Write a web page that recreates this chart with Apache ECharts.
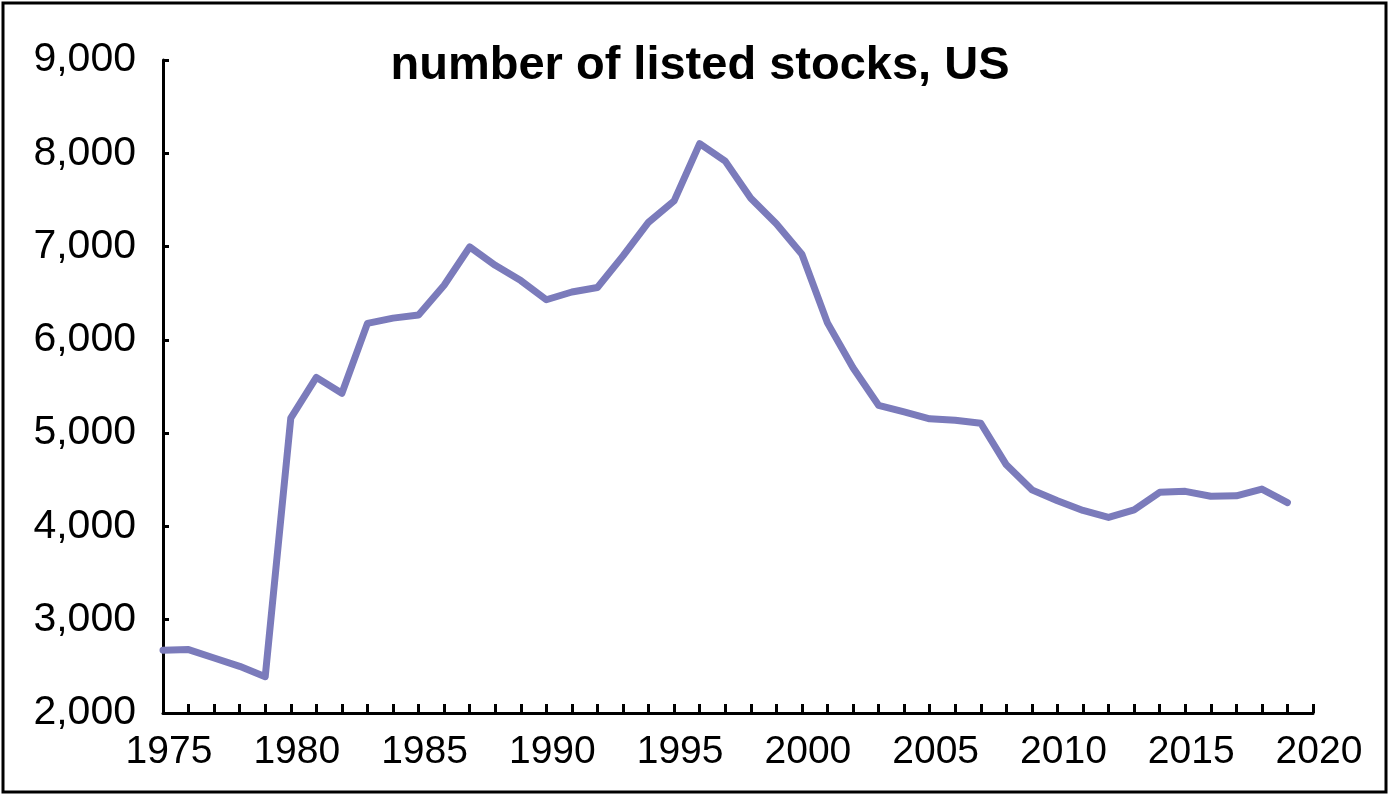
<!DOCTYPE html>
<html>
<head>
<meta charset="utf-8">
<script src="https://cdn.jsdelivr.net/npm/echarts@6/dist/echarts.min.js"></script>
<style>
html,body{margin:0;padding:0;background:#fff;}
#chart{width:1389px;height:797px;}
</style>
</head>
<body>
<div id="chart"></div>
<script>
var titleText = 'number of listed stocks, US';
var years = [];
for (var y = 1975; y <= 2020; y++) years.push(String(y));
var listedStocks = [
  2673, 2680, 2590, 2500, 2389,
  5160, 5598, 5427, 6177, 6233,
  6267, 6586, 6996, 6799, 6635,
  6430, 6513, 6561, 6900, 7261,
  7490, 8103, 7916, 7519, 7245,
  6917, 6182, 5700, 5298, 5228,
  5154, 5138, 5106, 4660, 4392,
  4275, 4171, 4096, 4178, 4366,
  4376, 4323, 4328, 4400, 4256
];
var yMin = 2000, yMax = 9000, yStep = 1000;

var chart = echarts.init(document.getElementById('chart'), null, {renderer: 'canvas'});
chart.setOption({
  backgroundColor: '#ffffff',
  animation: false,
  title: {
    text: titleText,
    left: 695,
    top: 38,
    textAlign: 'center',
    textStyle: {fontFamily: 'Liberation Sans', fontWeight: 'bold', fontSize: 47, color: '#000'}
  },
  graphic: [{
    type: 'rect',
    shape: {x: 3, y: 3, width: 1383, height: 789},
    style: {fill: 'none', stroke: '#000', lineWidth: 3},
    silent: true
  }],
  grid: {left: 163, right: 76, top: 60, bottom: 84, containLabel: false},
  xAxis: {
    type: 'category',
    data: years,
    boundaryGap: false,
    axisLine: {lineStyle: {color: '#000', width: 3}},
    axisTick: {show: true, inside: true, length: 9, interval: 0, lineStyle: {color: '#000', width: 3}},
    axisLabel: {
      interval: 4,
      margin: 20,
      padding: [0, 0, 0, 12],
      fontFamily: 'Liberation Sans',
      fontSize: 39,
      color: '#000'
    },
    splitLine: {show: false}
  },
  yAxis: {
    type: 'value',
    min: yMin,
    max: yMax,
    interval: yStep,
    axisLine: {show: true, lineStyle: {color: '#000', width: 3}},
    axisTick: {show: true, inside: true, length: 6, lineStyle: {color: '#000', width: 3}},
    axisLabel: {
      margin: 27,
      padding: [0, 0, 16, 0],
      fontFamily: 'Liberation Sans',
      fontSize: 41,
      color: '#000',
      formatter: function (v) { return v.toLocaleString('en-US'); }
    },
    splitLine: {show: false}
  },
  series: [{
    type: 'line',
    data: listedStocks,
    showSymbol: false,
    symbol: 'none',
    lineStyle: {color: '#7b7bbb', width: 7, cap: 'round', join: 'round'},
    itemStyle: {color: '#7b7bbb'}
  }]
});
</script>
</body>
</html>
